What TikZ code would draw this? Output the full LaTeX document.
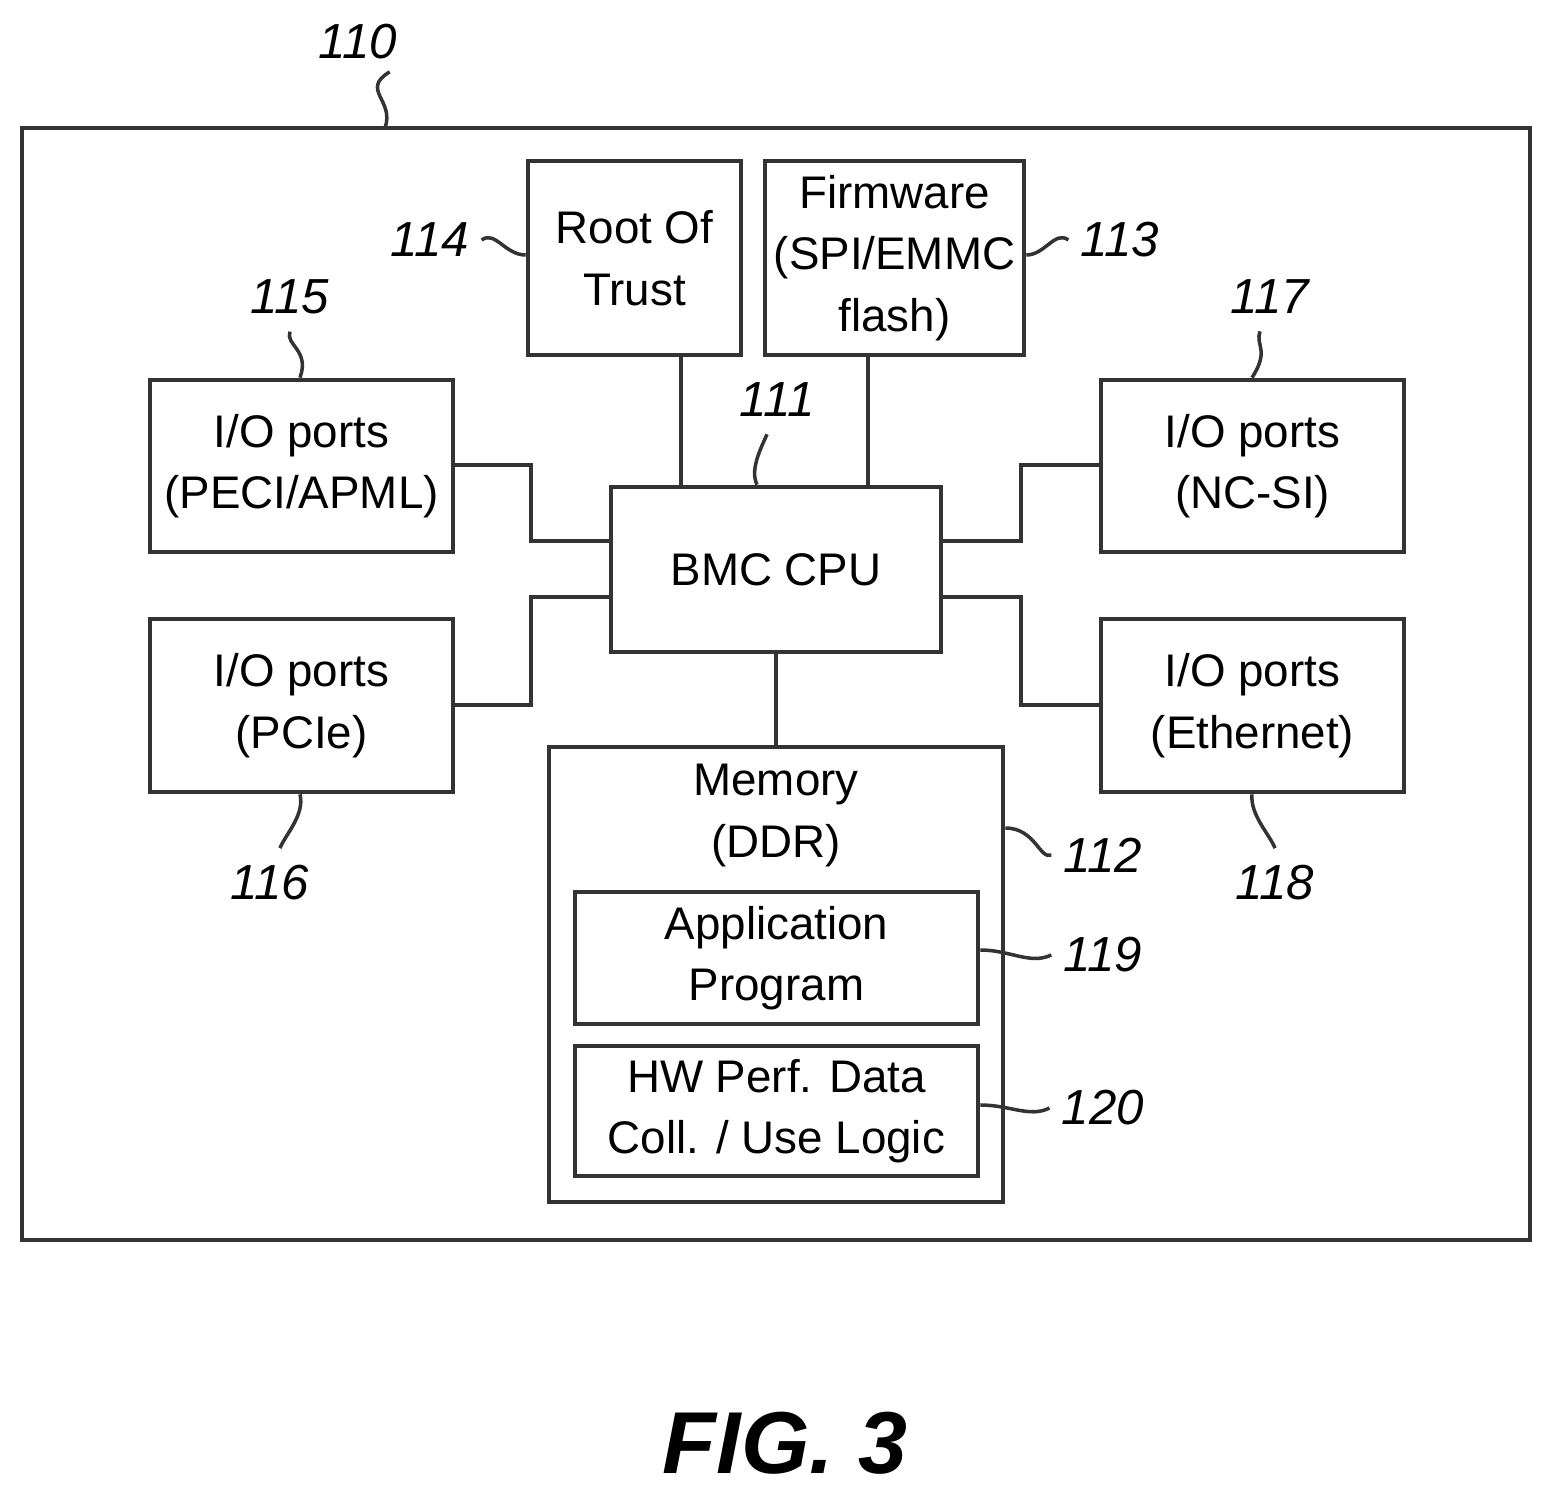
\documentclass[tikz,border=0pt]{standalone}
\usepackage{fontspec}
\setmainfont{Liberation Sans}
\usetikzlibrary{positioning}
\tikzset{
  box/.style={draw=black!80, line width=1.3pt, inner sep=0pt, align=center, font=\fontsize{13}{17.5}\selectfont},
  wire/.style={draw=black!80, line width=1.3pt},
  lead/.style={draw=black!80, line width=1pt},
  ref/.style={font=\fontsize{14}{17}\selectfont\itshape}
}
\begin{document}
\begin{tikzpicture}[x=0.01cm, y=-0.01cm]
\useasboundingbox (0,0) rectangle (1553,1494);
% boxes
\draw[wire] (22,128) rectangle (1530,1240);
\node[box, minimum width=2.13cm, minimum height=1.94cm] (rot) at (634.5,258) {Root Of\\Trust};
\node[box, minimum width=2.59cm, minimum height=1.94cm] (fw) at (894.5,258) {Firmware\\(SPI/EMMC\\flash)};
\node[box, minimum width=3.03cm, minimum height=1.72cm] (io5) at (301.5,466) {I/O ports\\(PECI/APML)};
\node[box, minimum width=3.03cm, minimum height=1.73cm] (io6) at (301.5,705.5) {I/O ports\\(PCIe)};
\node[box, minimum width=3.03cm, minimum height=1.72cm] (io7) at (1252.5,466) {I/O ports\\(NC-SI)};
\node[box, minimum width=3.03cm, minimum height=1.73cm] (io8) at (1252.5,705.5) {I/O ports\\(Ethernet)};
\node[box, minimum width=3.30cm, minimum height=1.65cm] (cpu) at (776,569.5) {BMC CPU};
\node[box, minimum width=4.54cm, minimum height=4.55cm] (mem) at (776,974.5) {};
\node[box, draw=none, anchor=north] (memtxt) at (776,762) {Memory\\(DDR)};
\node[box, minimum width=4.03cm, minimum height=1.32cm] (app) at (776.5,958) {Application\\Program};
\node[box, minimum width=4.03cm, minimum height=1.30cm] (hw) at (776.5,1111) {HW Perf. Data\\Coll. / Use Logic};
% connectors
\draw[wire] (rot.south -| 681,0) -- (cpu.north -| 681,0);
\draw[wire] (fw.south -| 868,0) -- (cpu.north -| 868,0);
\draw[wire] (io5.east |- 0,465) -- (531,465) -- (531,541) -- (cpu.west |- 0,541);
\draw[wire] (io6.east |- 0,705) -- (531,705) -- (531,597) -- (cpu.west |- 0,597);
\draw[wire] (cpu.east |- 0,541) -- (1021,541) -- (1021,465) -- (io7.west |- 0,465);
\draw[wire] (cpu.east |- 0,597) -- (1021,597) -- (1021,705) -- (io8.west |- 0,705);
\draw[wire] (cpu.south) -- (mem.north);
% reference labels
\node[ref] (l110) at (358,42) {110};
\node[ref] (l114) at (430,240) {114};
\node[ref] (l113) at (1120,240) {113};
\node[ref] (l115) at (290,297) {115};
\node[ref] (l117) at (1270,297) {117};
\node[ref] (l116) at (270,883) {116};
\node[ref] (l118) at (1275,883) {118};
\node[ref] (l111) at (777,400) {111};
\node[ref] (l112) at (1103,855) {112};
\node[ref] (l119) at (1103,955) {119};
\node[ref] (l120) at (1103,1108) {120};
\draw[lead] (l110.south east) ++(-20,0) .. controls (360,90) and (395,100) .. (385,128);
\draw[lead] (l114.east) .. controls (495,230) and (505,255) .. (rot.west |- 0,255);
\draw[lead] (l113.west) .. controls (1055,230) and (1045,255) .. (fw.east |- 0,255);
\draw[lead] (l115.south) ++(0,5) .. controls (285,345) and (310,350) .. (io5.north -| 300,0);
\draw[lead] (l117.south) ++(-10,5) .. controls (1255,345) and (1270,350) .. (io7.north -| 1252,0);
\draw[lead] (l116.north) ++(10,-5) .. controls (285,835) and (305,815) .. (io6.south -| 300,0);
\draw[lead] (l118.north) ++(0,-5) .. controls (1270,835) and (1250,815) .. (io8.south -| 1252,0);
\draw[lead] (l111.south) ++(-10,5) .. controls (760,450) and (750,470) .. (cpu.north -| 757,0);
\draw[lead] (l112.west) .. controls (1040,860) and (1035,828) .. (mem.east |- 0,828);
\draw[lead] (l119.west) .. controls (1030,965) and (1010,950) .. (app.east |- 0,950);
\draw[lead] (l120.west) .. controls (1030,1118) and (1010,1105) .. (hw.east |- 0,1105);
\node[font=\fontsize{25}{30}\selectfont\bfseries\itshape] (fig) at (785,1443) {FIG. 3};
\end{tikzpicture}
\end{document}
